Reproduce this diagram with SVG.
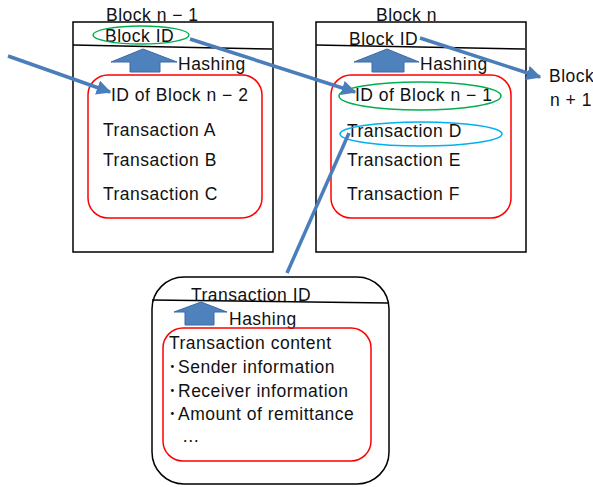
<svg xmlns="http://www.w3.org/2000/svg" width="593" height="487" viewBox="0 0 593 487">
  <defs>
    <style>
      text { font-family: "Liberation Sans", Arial, "Noto Sans CJK JP", sans-serif; font-size: 17.5px; letter-spacing: 0.5px; fill: #111; }
      .frame { fill: #fff; stroke: #000; stroke-width: 1.5; }
      .rule { stroke: #000; stroke-width: 1.5; fill: none; }
      .content { fill: none; stroke: #ff0000; stroke-width: 1.5; }
      .hash { fill: #4f81bd; stroke: #3a6aa6; stroke-width: 1; }
      .ring-green { fill: none; stroke: #00b050; stroke-width: 1.5; }
      .ring-blue { fill: none; stroke: #00b0f0; stroke-width: 1.5; }
      .link { stroke: #4a7ebb; stroke-width: 3.5; fill: none; }
    </style>
    <marker id="head" viewBox="0 0 10 10" refX="9" refY="5" markerWidth="4.2" markerHeight="4.2" orient="auto" markerUnits="strokeWidth">
      <path d="M0,0 L10,5 L0,10 z" fill="#4a7ebb"/>
    </marker>
  </defs>

  <!-- Block n - 1 -->
  <g id="block-n-minus-1">
    <rect class="frame" x="73" y="22" width="200" height="230"/>
    <line class="rule" x1="73" y1="45" x2="272" y2="49"/>
    <text x="106" y="21">Block n − 1</text>
    <text x="105" y="42">Block ID</text>
    <ellipse class="ring-green" cx="141" cy="35" rx="48" ry="9"/>
    <path class="hash" d="M143,49 L177,62 L160,62 L160,72 L130,72 L130,62 L111,62 z"/>
    <text x="178" y="70">Hashing</text>
    <rect class="content" x="88" y="75" width="174" height="143" rx="20"/>
    <text x="111" y="101">ID of Block n − 2</text>
    <text x="103" y="136">Transaction A</text>
    <text x="103" y="166">Transaction B</text>
    <text x="103" y="200">Transaction C</text>
  </g>

  <!-- Block n -->
  <g id="block-n">
    <rect class="frame" x="316" y="22" width="210" height="230"/>
    <line class="rule" x1="316" y1="45" x2="525" y2="49"/>
    <text x="376" y="21">Block n</text>
    <text x="349" y="45">Block ID</text>
    <path class="hash" d="M387,49 L419,62 L404,62 L404,72 L372,72 L372,62 L354,62 z"/>
    <text x="420" y="70">Hashing</text>
    <rect class="content" x="331" y="75" width="180" height="143" rx="20"/>
    <text x="355" y="101">ID of Block n − 1</text>
    <ellipse class="ring-green" cx="420" cy="96" rx="81" ry="14"/>
    <text x="347" y="137">Transaction D</text>
    <ellipse class="ring-blue" cx="421" cy="134" rx="81" ry="12"/>
    <text x="347" y="166">Transaction E</text>
    <text x="347" y="200">Transaction F</text>
  </g>

  <!-- Next block label -->
  <g id="block-n-plus-1">
    <text x="549" y="82" letter-spacing="0">Block</text>
    <text x="550" y="106">n + 1</text>
  </g>

  <!-- Transaction detail -->
  <g id="transaction">
    <rect class="frame" x="152" y="277" width="237" height="207" rx="32"/>
    <line class="rule" x1="152" y1="300" x2="388" y2="303"/>
    <text x="191" y="301">Transaction ID</text>
    <path class="hash" d="M201,302 L227,312 L214,312 L214,325 L185,325 L185,312 L174,312 z"/>
    <text x="229" y="325">Hashing</text>
    <rect class="content" x="163" y="328" width="208" height="133" rx="20"/>
    <text x="169" y="349">Transaction content</text>
    <text x="168" y="373" letter-spacing="0">･<tspan x="178" letter-spacing="0.5">Sender information</tspan></text>
    <text x="168" y="397" letter-spacing="0">･<tspan x="178" letter-spacing="0.5">Receiver information</tspan></text>
    <text x="168" y="420" letter-spacing="0">･<tspan x="178" letter-spacing="0.5">Amount of remittance</tspan></text>
    <text x="182" y="442">…</text>
  </g>

  <!-- Connectors -->
  <g id="connectors">
    <line class="link" x1="8" y1="56" x2="110" y2="92" marker-end="url(#head)"/>
    <line class="link" x1="190" y1="39" x2="355" y2="92" marker-end="url(#head)"/>
    <line class="link" x1="420" y1="38" x2="540" y2="77" marker-end="url(#head)"/>
    <line class="link" x1="349" y1="133" x2="287" y2="273"/>
  </g>
</svg>
